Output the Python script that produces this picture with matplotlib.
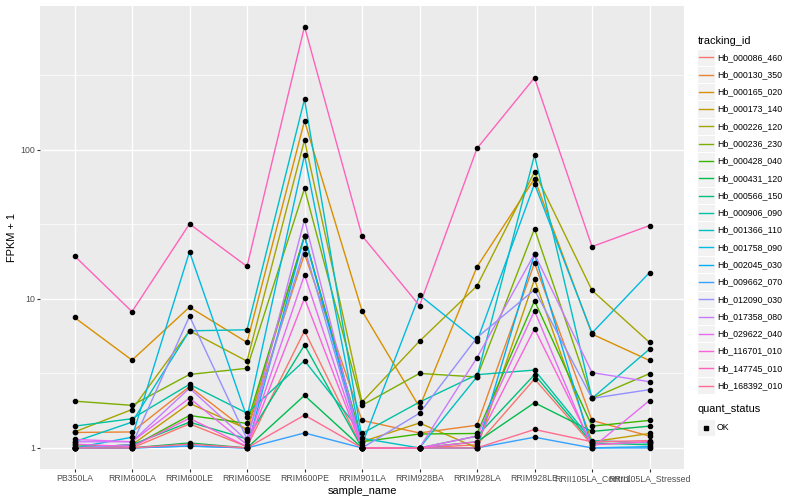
import matplotlib
matplotlib.use("Agg")
import matplotlib.pyplot as plt
from matplotlib.lines import Line2D
from matplotlib.patches import Rectangle
import numpy as np

plt.rcParams['font.family'] = ['Liberation Sans', 'DejaVu Sans']

samples = ["PB350LA", "RRIM600LA", "RRIM600LE", "RRIM600SE", "RRIM600PE",
           "RRIM901LA", "RRIM928BA", "RRIM928LA", "RRIM928LE",
           "RRII105LA_Control", "RRII105LA_Stressed"]

tracking_ids = ["Hb_000086_460", "Hb_000130_350", "Hb_000165_020", "Hb_000173_140",
                "Hb_000226_120", "Hb_000236_230", "Hb_000428_040", "Hb_000431_120",
                "Hb_000566_150", "Hb_000906_090", "Hb_001366_110", "Hb_001758_090",
                "Hb_002045_030", "Hb_009662_070", "Hb_012090_030", "Hb_017358_080",
                "Hb_029622_040", "Hb_116701_010", "Hb_147745_010", "Hb_168392_010"]

colors = ["#F8766D", "#EA8331", "#D89000", "#C09B00", "#A3A500", "#7CAE00",
          "#39B600", "#00BB4E", "#00BF7D", "#00C1A3", "#00BFC4", "#00BAE0",
          "#00B0F6", "#35A2FF", "#9590FF", "#C77CFF", "#E76BF3", "#FA62DB",
          "#FF62BC", "#FF6C91"]

Hb_000086_460 = [1.02, 1.0, 1.45, 1.02, 6.1, 1.0, 1.0, 1.05, 2.9, 1.05, 1.1]
Hb_000130_350 = [1.27, 1.28, 2.58, 1.3, 20.0, 1.53, 1.26, 1.42, 17.4, 1.53, 1.2]
Hb_000165_020 = [7.5, 3.88, 8.8, 5.1, 156, 8.3, 1.88, 16.4, 64, 5.8, 3.86]
Hb_000173_140 = [1.0, 1.05, 1.99, 1.34, 26.4, 1.1, 1.47, 1.0, 13.5, 1.1, 1.25]
Hb_000226_120 = [1.28, 1.81, 6.1, 3.82, 116, 2.03, 5.2, 12.2, 71, 11.4, 5.1]
Hb_000236_230 = [2.06, 1.93, 3.11, 3.42, 55, 1.93, 3.16, 2.99, 29.5, 2.15, 3.15]
Hb_000428_040 = [1.05, 1.02, 1.65, 1.46, 26.4, 1.1, 1.24, 1.25, 9.7, 1.4, 1.53]
Hb_000431_120 = [1.0, 1.0, 1.08, 1.0, 2.25, 1.0, 1.0, 1.1, 2.01, 1.29, 1.4]
Hb_000566_150 = [1.0, 1.05, 1.49, 1.15, 4.9, 1.0, 1.0, 1.2, 3.1, 1.08, 1.05]
Hb_000906_090 = [1.40, 1.57, 2.67, 1.71, 3.85, 1.25, 2.03, 3.1, 3.33, 1.12, 1.08]
Hb_001366_110 = [1.1, 1.49, 6.1, 6.2, 218, 1.16, 1.0, 3.0, 92, 2.15, 4.6]
Hb_001758_090 = [1.0, 1.18, 20.7, 1.6, 92, 1.05, 10.6, 5.2, 59, 5.9, 15]
Hb_002045_030 = [1.0, 1.0, 1.03, 1.0, 26.4, 1.0, 1.0, 1.0, 20, 1.0, 1.02]
Hb_009662_070 = [1.0, 1.0, 1.03, 1.0, 1.26, 1.0, 1.0, 1.0, 1.18, 1.0, 1.0]
Hb_012090_030 = [1.0, 1.05, 7.65, 1.15, 22, 1.0, 1.71, 5.5, 11.5, 2.15, 2.46]
Hb_017358_080 = [1.1, 1.1, 2.52, 1.12, 34, 1.0, 1.0, 4.03, 20, 3.2, 2.78]
Hb_029622_040 = [1.14, 1.1, 2.16, 1.05, 14.5, 1.0, 1.0, 1.2, 8.3, 1.0, 2.08]
Hb_116701_010 = [1.06, 1.02, 1.58, 1.02, 10.1, 1.0, 1.0, 1.1, 6.3, 1.05, 1.1]
Hb_147745_010 = [19.4, 8.2, 31.8, 16.5, 670, 26.5, 9.0, 102, 304, 22.4, 31]
Hb_168392_010 = [1.0, 1.0, 1.06, 1.0, 1.66, 1.0, 1.0, 1.0, 1.33, 1.1, 1.12]

series = [Hb_000086_460, Hb_000130_350, Hb_000165_020, Hb_000173_140, Hb_000226_120,
          Hb_000236_230, Hb_000428_040, Hb_000431_120, Hb_000566_150, Hb_000906_090,
          Hb_001366_110, Hb_001758_090, Hb_002045_030, Hb_009662_070, Hb_012090_030,
          Hb_017358_080, Hb_029622_040, Hb_116701_010, Hb_147745_010, Hb_168392_010]

W, H = 800, 500
fig = plt.figure(figsize=(8, 5), dpi=100)
pl, pr, pt, pb = 40, 684, 5.5, 469
ax = fig.add_axes([pl / W, 1 - pb / H, (pr - pl) / W, (pb - pt) / H])
ax.set_facecolor("#EBEBEB")
for s in ax.spines.values():
    s.set_visible(False)

x = np.arange(len(samples))
for vals, c in zip(series, colors):
    ax.plot(x, vals, color=c, lw=1.0, zorder=2, solid_capstyle='butt')
for vals in series:
    ax.plot(x, vals, ls='none', marker='o', ms=3.0, color='black', zorder=3)

ax.set_yscale('log')
allv = np.concatenate([np.log10(v) for v in series])
lo, hi = allv.min(), allv.max()
ex = 0.05 * (hi - lo)
ax.set_ylim(10 ** (lo - ex), 10 ** (hi + ex))
ax.set_xlim(-0.6, len(samples) - 1 + 0.6)

ax.set_yticks([1, 10, 100])
ax.set_yticklabels(["1", "10", "100"])
ax.set_yticks([10 ** 0.5, 10 ** 1.5, 10 ** 2.5], minor=True)
ax.yaxis.set_minor_formatter(plt.NullFormatter())
ax.set_xticks(x)
ax.set_xticklabels(samples)
ax.tick_params(axis='both', which='major', length=2, width=0.8, color='#333333',
               labelsize=6.3, labelcolor='#4D4D4D', pad=1.6)
ax.tick_params(axis='y', which='minor', length=0)
ax.grid(True, which='major', color='white', lw=1.0, zorder=0)
ax.grid(True, which='minor', axis='y', color='white', lw=0.5, zorder=0)
ax.set_axisbelow(True)
ax.set_xlabel("sample_name", fontsize=7.9, labelpad=2)
ax.set_ylabel("FPKM + 1", fontsize=7.9, labelpad=2)

def fx(px):
    return px / W

def fy(py):
    return 1 - py / H

# Legend: tracking_id
kx, ksz = 697.3, 17.28
fig.text(fx(kx), fy(40.7), "tracking_id", fontsize=7.9, va='center', ha='left')
y0 = 57.3
for i, (tid, c) in enumerate(zip(tracking_ids, colors)):
    yc = y0 + i * ksz
    fig.add_artist(Rectangle((fx(kx), fy(yc + ksz / 2)), ksz / W, ksz / H,
                             transform=fig.transFigure, facecolor='#F2F2F2',
                             edgecolor='white', lw=0.7))
    fig.add_artist(Line2D([fx(kx + 1.7), fx(kx + ksz - 1.7)], [fy(yc), fy(yc)],
                          transform=fig.transFigure, color=c, lw=1.0))
    fig.text(fx(kx + ksz + 2.5), fy(yc), tid, fontsize=6.3, va='center', ha='left')

# Legend: quant_status
fig.text(fx(kx), fy(409.5), "quant_status", fontsize=7.9, va='center', ha='left')
yc = 427.5
fig.add_artist(Rectangle((fx(kx), fy(yc + ksz / 2)), ksz / W, ksz / H,
                         transform=fig.transFigure, facecolor='#F2F2F2',
                         edgecolor='white', lw=0.7))
fig.add_artist(Line2D([fx(kx + ksz / 2)], [fy(yc)], transform=fig.transFigure,
                      ls='none', marker='s', ms=2.6, color='black'))
fig.text(fx(kx + ksz + 2.5), fy(yc), "OK", fontsize=6.3, va='center', ha='left')

fig.savefig("out.png", dpi=100)
